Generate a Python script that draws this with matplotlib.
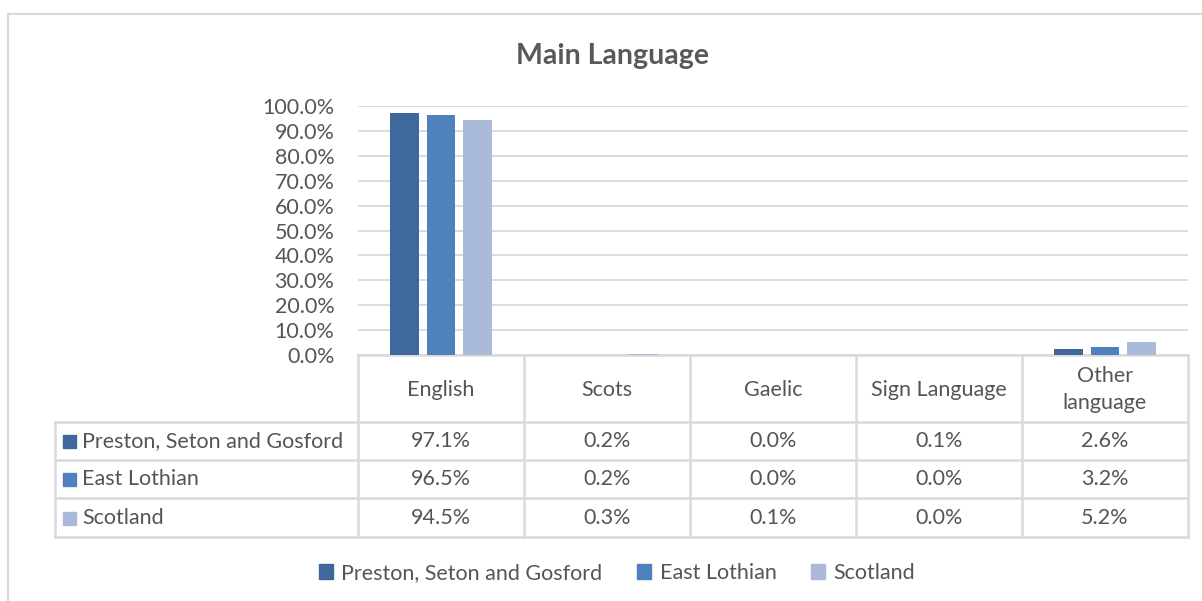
import matplotlib.pyplot as plt
import numpy as np

# data
categories = ['English', 'Scots', 'Gaelic', 'Sign Language', 'Other\nlanguage']
series = ['Preston, Seton and Gosford', 'East Lothian', 'Scotland']
preston = [97.1, 0.2, 0.0, 0.1, 2.6]
east_lothian = [96.5, 0.2, 0.0, 0.0, 3.2]
scotland = [94.5, 0.3, 0.1, 0.0, 5.2]
colors = ['#3f699c', '#4f81bd', '#a9bbd9']

values = [preston, east_lothian, scotland]
plt.rcParams['font.family'] = ['Lato', 'DejaVu Sans']
txt = '#555555'
grid = '#d9d9d9'
fs = 15.5

W, H = 1202, 601
fig = plt.figure(figsize=(W / 100, H / 100), dpi=100)

# overlay axes in pixel coordinates for frame, title, table and legend
ov = fig.add_axes([0, 0, 1, 1])
ov.set_xlim(0, W)
ov.set_ylim(H, 0)
ov.axis('off')

# chart frame
ov.plot([8, W + 5], [14, 14], color=grid, lw=1.5)
ov.plot([8, 8], [14, H + 5], color=grid, lw=1.5)

ov.text(613, 56, 'Main Language', ha='center', va='center', fontsize=20.5,
        fontweight='bold', color='#595959')

# plot area geometry
x0, x1 = 358, 1188
y_top, y_bot = 106, 355
ax = fig.add_axes([x0 / W, 1 - y_bot / H, (x1 - x0) / W, (y_bot - y_top) / H])
n = len(categories)
x = np.arange(n)
bw = 0.17
for i, (vals, c) in enumerate(zip(values, colors)):
    ax.bar(x + (i - 1) * 0.22, vals, width=bw, color=c, zorder=3)
ax.set_xlim(-0.5, n - 0.5)
ax.set_ylim(0, 100)
ax.set_yticks(np.arange(0, 101, 10))
ax.set_yticklabels([f'{v:.1f}%' for v in range(0, 101, 10)], fontsize=fs, color=txt)
ax.tick_params(axis='y', length=0, pad=17)
ax.set_xticks([])
ax.yaxis.grid(True, color=grid, lw=1.3, zorder=0)
for s in ax.spines.values():
    s.set_visible(False)
ax.patch.set_alpha(0)

# data table
col_w = (x1 - x0) / n
row_edges = [y_bot, 422, 460, 498, 537]
tl = 1.8
lx = 55
for k in range(n + 1):
    xv = x0 + k * col_w
    ov.plot([xv, xv], [y_bot, row_edges[-1]], color=grid, lw=tl)
ov.plot([x0, x1], [y_bot, y_bot], color=grid, lw=tl)
for yh in row_edges[1:]:
    ov.plot([lx, x1], [yh, yh], color=grid, lw=tl)
ov.plot([lx, lx], [row_edges[1], row_edges[-1]], color=grid, lw=tl)

for k, cat in enumerate(categories):
    ov.text(x0 + (k + 0.5) * col_w, (row_edges[0] + row_edges[1]) / 2 + 1, cat,
            ha='center', va='center', fontsize=fs, color=txt, linespacing=1.45)

for r, (name, vals, c) in enumerate(zip(series, values, colors)):
    yc = (row_edges[r + 1] + row_edges[r + 2]) / 2
    ov.add_patch(plt.Rectangle((63, yc - 6), 13, 13, color=c))
    ov.text(82, yc, name, ha='left', va='center', fontsize=fs, color=txt)
    for k, v in enumerate(vals):
        ov.text(x0 + (k + 0.5) * col_w, yc, f'{v:.1f}%', ha='center', va='center',
                fontsize=fs, color=txt)

# legend
handles = [plt.Rectangle((0, 0), 1, 1, color=c) for c in colors]
fig.legend(handles, series, loc='center', bbox_to_anchor=(617 / W, 1 - 573 / H),
           ncol=3, frameon=False, fontsize=fs, labelcolor=txt,
           handlelength=0.65, handleheight=0.65, handletextpad=0.4, columnspacing=1.6)

fig.savefig('out.png', dpi=100, facecolor='white')
